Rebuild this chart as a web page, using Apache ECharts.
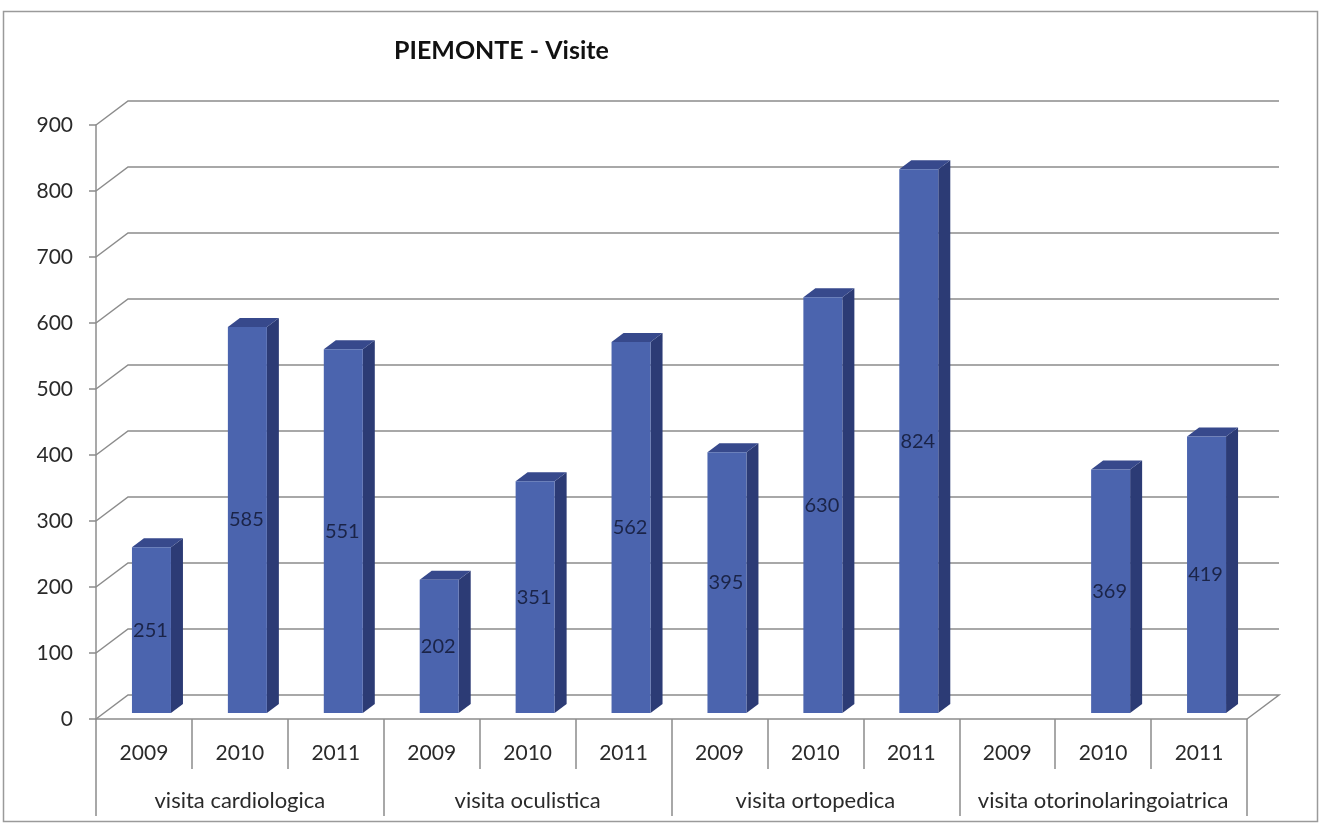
<!DOCTYPE html>
<html>
<head>
<meta charset="utf-8">
<script src="https://cdn.jsdelivr.net/npm/echarts@6/dist/echarts.min.js"></script>
<style>
  html, body { margin: 0; padding: 0; background: #fff; }
  #main { width: 1327px; height: 827px; }
</style>
</head>
<body>
<div id="main"></div>
<script>
/************* PIEMONTE - Visite **************/

var groups = ['visita cardiologica', 'visita oculistica', 'visita ortopedica', 'visita otorinolaringoiatrica'];
var years = ['2009', '2010', '2011'];
var cardiologica = [251, 585, 551];
var oculistica = [202, 351, 562];
var ortopedica = [395, 630, 824];
var otorino = [null, 369, 419];   // 2009 manca
var yTicks = [0, 100, 200, 300, 400, 500, 600, 700, 800, 900];

// categorie e valori (12 barre)
var categories = [];
var values = [];
[cardiologica, oculistica, ortopedica, otorino].forEach(function (arr) {
    arr.forEach(function (v, j) {
        categories.push(years[j]);
        values.push(v);
    });
});

var DX = 32, DY = -24;           // profondita' della parete di fondo
var FONT = 'Lato, "Open Sans", sans-serif';
var LINE = '#8c8c8c';

var chart = echarts.init(document.getElementById('main'));

var option = {
    backgroundColor: '#fff',
    animation: false,
    title: {
        text: 'PIEMONTE - Visite',
        left: 389,
        top: 33,
        textStyle: { fontFamily: FONT, fontSize: 25, fontWeight: 'bold', color: '#111' }
    },
    graphic: [{
        type: 'rect',
        shape: { x: 3.5, y: 11.5, width: 1314, height: 810 },
        style: { fill: 'none', stroke: '#9a9a9a', lineWidth: 1.5 },
        silent: true
    }],
    grid: { left: 96, right: 80, top: 125, bottom: 108 },
    xAxis: [{
        type: 'category',
        position: 'bottom',
        data: categories,
        axisLine: { show: true, lineStyle: { color: LINE, width: 1.5 } },
        axisTick: { show: true, interval: 0, length: 50, lineStyle: { color: LINE, width: 1.5 } },
        axisLabel: { interval: 0, margin: 24, fontFamily: FONT, fontSize: 21, color: '#2a2a2a' }
    }, {
        type: 'category',
        position: 'bottom',
        data: groups,
        axisLine: { show: false },
        axisTick: { show: true, interval: 0, length: 97, lineStyle: { color: LINE, width: 1.5 } },
        axisLabel: { interval: 0, margin: 71, fontFamily: FONT, fontSize: 22, color: '#2a2a2a' }
    }],
    yAxis: {
        type: 'value',
        min: 0,
        max: 900,
        interval: 100,
        axisLine: { show: true, lineStyle: { color: LINE, width: 1.5 } },
        axisTick: { show: true, length: 7, lineStyle: { color: LINE, width: 1.5 } },
        axisLabel: { margin: 23, fontFamily: FONT, fontSize: 21, color: '#2a2a2a' },
        splitLine: { show: false }
    },
    series: [
        {
            // griglia di fondo con raccordi diagonali
            type: 'custom',
            silent: true,
            z: 1,
            data: yTicks.map(function (t) { return [0, t]; }),
            encode: { x: 0, y: 1 },
            renderItem: function (params, api) {
                var cs = params.coordSys;
                var y = api.coord([0, api.value(1)])[1];
                var x0 = cs.x, x1 = cs.x + cs.width;
                var pts = [[x0, y], [x0 + DX, y + DY], [x1 + DX, y + DY]];
                if (api.value(1) === 0) pts.push([x1, y]);
                return {
                    type: 'polyline',
                    shape: { points: pts },
                    style: { stroke: LINE, lineWidth: 1.5, fill: null }
                };
            }
        },
        {
            // barre 3D
            type: 'custom',
            z: 3,
            data: values.map(function (v, i) { return [i, v]; }),
            encode: { x: 0, y: 1 },
            renderItem: function (params, api) {
                var v = api.value(1);
                if (v == null || isNaN(v)) return null;
                var top = api.coord([api.value(0), v]);
                var base = api.coord([api.value(0), 0]);
                var w = 39, dx = 12, dy = -9;
                var L = top[0] - 12, R = L + w;
                var yt = top[1] - 6, yb = base[1] - 6;
                return {
                    type: 'group',
                    children: [
                        { type: 'polygon', shape: { points: [[R, yt], [R + dx, yt + dy], [R + dx, yb + dy], [R, yb]] },
                          style: { fill: '#2c3b75' } },
                        { type: 'polygon', shape: { points: [[L, yt], [L + dx, yt + dy], [R + dx, yt + dy], [R, yt]] },
                          style: { fill: '#37498c' } },
                        { type: 'rect', shape: { x: L, y: yt, width: w, height: yb - yt },
                          style: { fill: '#4b64ae' } },
                        { type: 'text', style: { text: String(v), x: L + w / 2 - 1, y: (yt + yb) / 2,
                          align: 'center', verticalAlign: 'middle', font: '20px ' + FONT, fill: '#1b2448' } }
                    ]
                };
            }
        }
    ]
};

chart.setOption(option);
</script>
</body>
</html>
